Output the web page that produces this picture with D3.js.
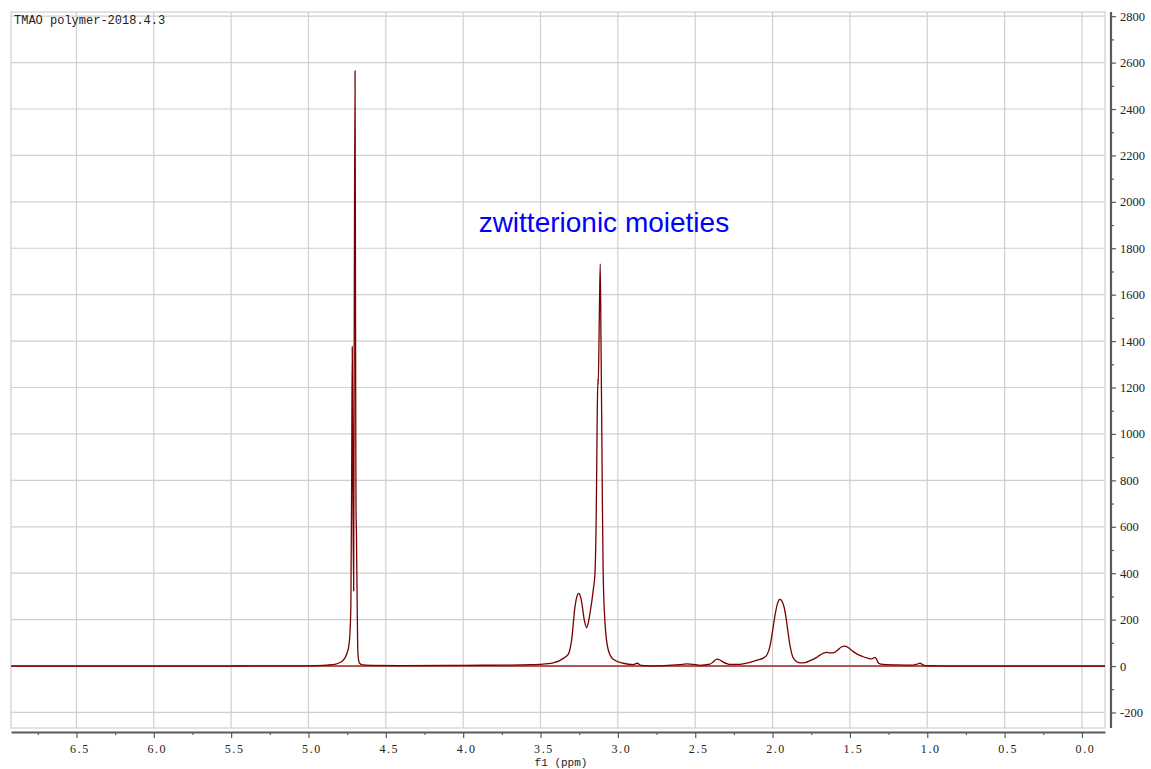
<!DOCTYPE html>
<html>
<head>
<meta charset="utf-8">
<script src="https://cdn.jsdelivr.net/npm/d3@7"></script>
<style>
  html, body { margin: 0; padding: 0; background: #ffffff; }
  svg { display: block; }
</style>
</head>
<body>
<svg id="chart" width="1151" height="769"></svg>
<script>
// ---- Data ----
const title = "TMAO polymer-2018.4.3";
const xAxisLabel = "f1 (ppm)";
const annotation = "zwitterionic moieties";

const ppm = [
  6.92, 6.0, 5.5, 5.2, 5.05, 4.95, 4.88, 4.83, 4.80, 4.78, 4.764, 4.751, 4.740, 4.732, 4.726, 4.721,
  4.717, 4.713, 4.708, 4.704, 4.699, 4.696, 4.693, 4.690, 4.686, 4.682, 4.677, 4.670, 4.650, 4.600,
  4.400, 4.000, 3.700, 3.550, 3.504, 3.450, 3.418, 3.380, 3.353, 3.321, 3.299, 3.277, 3.262, 3.252,
  3.242, 3.234, 3.217, 3.202, 3.190, 3.180, 3.159, 3.148, 3.140, 3.137, 3.133, 3.129, 3.127, 3.120,
  3.114, 3.109, 3.105, 3.100, 3.095, 3.083, 3.062, 3.030, 2.965, 2.900, 2.875, 2.851, 2.800, 2.700,
  2.600, 2.555, 2.500, 2.469, 2.405, 2.380, 2.361, 2.340, 2.319, 2.290, 2.275, 2.211, 2.146, 2.100,
  2.060, 2.035, 2.017, 2.000, 1.985, 1.968, 1.952, 1.938, 1.924, 1.910, 1.899, 1.885, 1.870, 1.850,
  1.823, 1.790, 1.758, 1.720, 1.694, 1.670, 1.650, 1.630, 1.608, 1.580, 1.555, 1.532, 1.510, 1.478,
  1.450, 1.414, 1.385, 1.359, 1.345, 1.338, 1.328, 1.317, 1.300, 1.262, 1.200, 1.090, 1.065, 1.047,
  1.030, 1.015, 0.950, 0.800, 0.0, -0.149
];
const intensity = [
  0, 0, 0, 1, 1, 2, 4, 7, 14, 22, 35, 55, 85, 140, 260, 800,
  1376, 800, 323, 1500, 2565, 1600, 700, 575, 320, 90, 30, 12, 5, 3,
  2, 3, 4, 6, 7, 10, 14, 22, 33, 50, 112, 256, 305, 313,
  300, 275, 198, 165, 190, 228, 328, 400, 650, 832, 1104, 1238, 1212, 1500,
  1733, 1400, 1100, 700, 400, 185, 69, 29, 12, 6, 12, 3, 1, 2,
  6, 9, 6, 3, 8, 20, 30, 26, 17, 9, 7, 7, 16, 25,
  34, 50, 85, 150, 215, 270, 287, 278, 250, 195, 141, 80, 40, 22,
  14, 15, 23, 35, 47, 56, 59, 57, 57, 68, 82, 86, 79, 62,
  50, 40, 34, 31, 35, 37, 30, 14, 8, 6, 5, 4, 8, 12,
  6, 2, 1, 0, 0, 0
];

const xMajorTicks = [6.5, 6.0, 5.5, 5.0, 4.5, 4.0, 3.5, 3.0, 2.5, 2.0, 1.5, 1.0, 0.5, 0.0];
const xMinorTicks = [6.75, 6.25, 5.75, 5.25, 4.75, 4.25, 3.75, 3.25, 2.75, 2.25, 1.75, 1.25, 0.75, 0.25];
const yMajorTicks = [-200, 0, 200, 400, 600, 800, 1000, 1200, 1400, 1600, 1800, 2000, 2200, 2400, 2600, 2800];
const yMinorTicks = [-100, 100, 300, 500, 700, 900, 1100, 1300, 1500, 1700, 1900, 2100, 2300, 2500, 2700];

// ---- Layout ----
const svg = d3.select("#chart");
const plot = { left: 11, right: 1105, top: 12, bottom: 728 };

const x = d3.scaleLinear().domain([6.923, -0.149]).range([plot.left, plot.right]);
const y = d3.scaleLinear().domain([-267, 2818]).range([plot.bottom, plot.top]);

const gridColor = "#cfcfcf";
const axisColor = "#5a5a5a";

// Grid
const grid = svg.append("g");
grid.selectAll("line.v").data(xMajorTicks).join("line")
  .attr("x1", d => x(d)).attr("x2", d => x(d))
  .attr("y1", plot.top).attr("y2", plot.bottom)
  .attr("stroke", gridColor).attr("stroke-width", 1.2);
grid.selectAll("line.h").data(yMajorTicks).join("line")
  .attr("x1", plot.left).attr("x2", plot.right)
  .attr("y1", d => y(d)).attr("y2", d => y(d))
  .attr("stroke", gridColor).attr("stroke-width", 1.2);
grid.append("rect")
  .attr("x", plot.left).attr("y", plot.top)
  .attr("width", plot.right - plot.left).attr("height", plot.bottom - plot.top)
  .attr("fill", "none").attr("stroke", gridColor).attr("stroke-width", 1.2);

// Zero baseline
svg.append("line")
  .attr("x1", plot.left).attr("x2", plot.right)
  .attr("y1", y(0)).attr("y2", y(0))
  .attr("stroke", "#a02828").attr("stroke-width", 1.6);

// Spectrum
const pts = ppm.map((p, i) => [p, intensity[i]]);
const line = d3.line()
  .x(d => x(d[0]))
  .y(d => y(d[1]))
  .curve(d3.curveMonotoneX);
svg.append("path")
  .datum(pts)
  .attr("d", line)
  .attr("fill", "none")
  .attr("stroke", "#7a0000")
  .attr("stroke-width", 1.3)
  .attr("stroke-linejoin", "round");

// X axis (bottom)
const xAxisY = 732;
const gxMinor = svg.append("g").attr("transform", `translate(0,${xAxisY})`)
  .call(d3.axisBottom(x).tickValues(xMinorTicks).tickSize(3).tickSizeOuter(0).tickFormat(""));
gxMinor.select(".domain").remove();
const gx = svg.append("g").attr("transform", `translate(0,${xAxisY})`)
  .call(d3.axisBottom(x).tickValues(xMajorTicks).tickSize(6).tickSizeOuter(0).tickPadding(6)
    .tickFormat(d3.format(".1f")));
gx.select(".domain").attr("stroke", axisColor).attr("stroke-width", 2.2);
svg.selectAll("g.tick line").attr("stroke", axisColor).attr("stroke-width", 1.2);
gx.selectAll("text")
  .attr("fill", "#222")
  .attr("dx", 3)
  .style("font-family", "'Liberation Serif', 'DejaVu Serif', serif")
  .style("font-size", "12px")
  .style("letter-spacing", "1.6px");

svg.append("text")
  .attr("x", (plot.left + plot.right) / 2 + 3)
  .attr("y", 766)
  .attr("text-anchor", "middle")
  .attr("fill", "#222")
  .style("font-family", "'Liberation Mono', 'DejaVu Sans Mono', monospace")
  .style("font-size", "11px")
  .text(xAxisLabel);

// Y axis (right)
const yAxisX = 1111;
const gyMinor = svg.append("g").attr("transform", `translate(${yAxisX},0)`)
  .call(d3.axisRight(y).tickValues(yMinorTicks).tickSize(3).tickSizeOuter(0).tickFormat(""));
gyMinor.select(".domain").remove();
gyMinor.selectAll("line").attr("stroke", axisColor).attr("stroke-width", 1.2);
const gy = svg.append("g").attr("transform", `translate(${yAxisX},0)`)
  .call(d3.axisRight(y).tickValues(yMajorTicks).tickSize(5).tickSizeOuter(0).tickPadding(4)
    .tickFormat(d => d < 0 ? "-" + Math.abs(d) : String(d)));
gy.select(".domain").attr("stroke", axisColor).attr("stroke-width", 2.2)
  .attr("d", `M0,${plot.top}V${plot.bottom}`);
gy.selectAll("line").attr("stroke", axisColor).attr("stroke-width", 1.2);
gy.selectAll("text")
  .attr("fill", "#222")
  .style("font-family", "'Liberation Serif', 'DejaVu Serif', serif")
  .style("font-size", "12.5px");

// Title
svg.append("text")
  .attr("x", 14).attr("y", 24)
  .attr("fill", "#222")
  .style("font-family", "'Liberation Mono', 'DejaVu Sans Mono', monospace")
  .style("font-size", "12px")
  .text(title);

// Annotation
svg.append("text")
  .attr("x", x(3.9)).attr("y", 232)
  .attr("fill", "#0000ff")
  .style("font-family", "'Liberation Sans', Arial, sans-serif")
  .style("font-size", "28px")
  .text(annotation);
</script>
</body>
</html>
